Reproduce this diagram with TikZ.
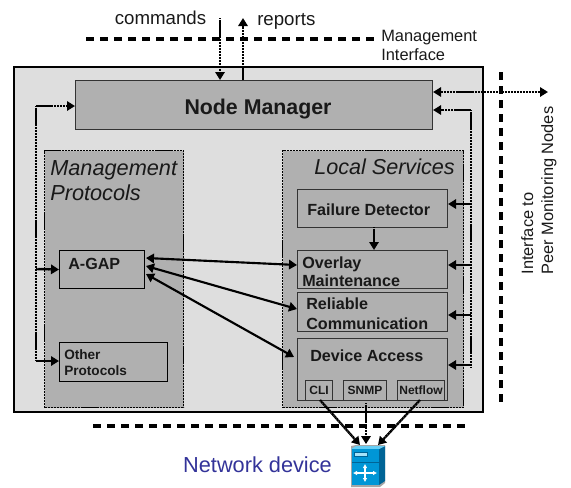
\documentclass[tikz,border=0pt]{standalone}
\usepackage{fontspec}
\setmainfont{Liberation Sans}
\usetikzlibrary{arrows.meta,calc}
\definecolor{outerfill}{gray}{0.87}
\definecolor{boxfill}{gray}{0.69}
\definecolor{devblue}{RGB}{51,51,153}
\definecolor{icoblue}{RGB}{0,150,214}
\definecolor{icodark}{RGB}{0,100,150}
\tikzset{
 x=0.75pt,y=-0.75pt,
 abox/.style={draw=black!80,fill=boxfill,line width=0.8pt,inner sep=0pt,anchor=north west},
 dbox/.style={abox,draw=black,line width=1pt,dash pattern=on 0.8pt off 0.32pt},
 lab/.style={inner sep=0pt,anchor=west,align=left,font=\bfseries\fontsize{12.1}{15}\selectfont,text=black!90},
 dotline/.style={line width=1.8pt,dash pattern=on 0.8pt off 0.32pt},
 dot/.style={dotline,-{Triangle[length=6pt,width=7pt]}},
 dotboth/.style={dotline,{Triangle[length=6pt,width=7pt]}-{Triangle[length=6pt,width=7pt]}},
 sol/.style={line width=1.6pt,{Triangle[length=6pt,width=7pt]}-{Triangle[length=6pt,width=7pt]}},
 divide/.style={line width=2.4pt,dash pattern=on 6pt off 4.5pt},
 reg/.style={inner sep=0pt,font=\fontsize{14}{16}\selectfont,text=black!90},
}
\begin{document}
\begin{tikzpicture}
\useasboundingbox (0,0) rectangle (571,487);
% outer
\node[draw=black,fill=outerfill,line width=1.3pt,inner sep=0pt,anchor=north west,minimum width=469*0.75pt,minimum height=345*0.75pt] (outer) at (13,66) {};
\node[abox,minimum width=357*0.75pt,minimum height=49*0.75pt] (nm) at (75,80) {};
\node[reg,font=\bfseries\fontsize{16}{18}\selectfont] (nmt) at (258,109) {Node Manager};
\node[dbox,minimum width=139*0.75pt,minimum height=257*0.75pt] (mp) at (44,150) {};
\node[dbox,minimum width=181*0.75pt,minimum height=257*0.75pt] (ls) at (282,150) {};
\node[reg,anchor=north west,align=left,font=\itshape\fontsize{16.3}{18.7}\selectfont] (mpt) at (50,160) {Management\\Protocols};
\node[reg,anchor=north east,font=\itshape\fontsize{16.2}{18}\selectfont] (lst) at (455,159) {Local Services};
\node[abox,minimum width=150*0.75pt,minimum height=38*0.75pt] (fd) at (297,189) {};
\node[lab] (fdt) at (307,209.5) {Failure Detector};
\node[abox,minimum width=150*0.75pt,minimum height=38*0.75pt] (ov) at (297,250) {};
\node[lab,font=\bfseries\fontsize{12.1}{13.6}\selectfont] (ovt) at (302,271.5) {Overlay\\Maintenance};
\node[abox,minimum width=150*0.75pt,minimum height=39*0.75pt] (re) at (297,292) {};
\node[lab] (ret) at (306,314) {Reliable\\Communication};
\node[abox,minimum width=150*0.75pt,minimum height=62*0.75pt] (da) at (297,338) {};
\node[lab] (dat) at (310,355.5) {Device Access};
\node[abox,minimum width=27*0.75pt,minimum height=20*0.75pt] (cli) at (305,380) {};
\node[abox,minimum width=43*0.75pt,minimum height=20*0.75pt] (snmp) at (343,380) {};
\node[abox,minimum width=47*0.75pt,minimum height=20*0.75pt] (nf) at (397,380) {};
\node[reg,font=\bfseries\fontsize{9}{10}\selectfont] (clit) at (cli) {CLI};
\node[reg,font=\bfseries\fontsize{9}{10}\selectfont] (snmpt) at (snmp) {SNMP};
\node[reg,font=\bfseries\fontsize{9}{10}\selectfont] (nft) at (nf) {Netflow};
\node[abox,draw=black,minimum width=85*0.75pt,minimum height=38*0.75pt] (ag) at (59,250) {};
\node[lab] (agt) at (68,263.5) {A-GAP};
\node[abox,draw=black,minimum width=108*0.75pt,minimum height=39*0.75pt] (op) at (59,342) {};
\node[lab,font=\bfseries\fontsize{10.2}{12}\selectfont] (opt) at (64,363) {Other\\Protocols};
% texts
\node[reg,anchor=center] (cmd) at (160.5,18) {commands};
\node[reg,anchor=west] (rep) at (257,21) {reports};
\node[reg,anchor=north west,align=left,font=\fontsize{12.3}{14.5}\selectfont] (mi) at (381,30) {Management\\Interface};
\node[reg,rotate=90,align=left,font=\fontsize{12.3}{15}\selectfont] (pi) at (539,190.5) {Interface to\\Peer Monitoring Nodes};
\node[reg,text=devblue,font=\fontsize{16.3}{18}\selectfont] (nd) at (257.5,465) {Network device};
% dividers
\coordinate (d1a) at (86,39); \coordinate (d1b) at (375,39);
\coordinate (d2a) at (93,426); \coordinate (d2b) at (467,426);
\coordinate (d3a) at (501,72); \coordinate (d3b) at (501,407);
\draw[divide] (d1a) -- (d1b);
\draw[divide] (d2a) -- (d2b);
\draw[divide] (d3a) -- (d3b);
% icon
\fill[gray!70] (351,446) -- (356,445) -- (385,445) -- (385,483) -- (380,487) -- (351,487) -- cycle;
\fill[icodark] (379,449) -- (385,446) -- (385,481) -- (379,485) -- cycle;
\fill[cyan!60!white] (351,449) -- (356,446) -- (385,446) -- (379,449) -- cycle;
\fill[icoblue] (352,449) rectangle (379,485);
\draw[icodark,line width=0.6pt] (352,462) -- (379,462);
\fill[cyan!35!white] (354,452) rectangle (367,456);
\draw[icodark,line width=0.5pt] (354,452) rectangle (367,456);
\draw[white,line width=1.2pt,{Latex[length=3pt,width=3.5pt]}-{Latex[length=3pt,width=3.5pt]}] (353,473) -- (377,473);
\draw[white,line width=1.2pt,{Latex[length=3pt,width=3.5pt]}-{Latex[length=3pt,width=3.5pt]}] (365,464) -- (365,482);
\node[inner sep=0pt,minimum width=1pt,minimum height=1pt] (dev) at (366,445) {};
\coordinate (devl) at (360,445);
\coordinate (devr) at (378,445);
% connectors
\coordinate (c0) at (220,18); \coordinate (r0) at (243,18);
\draw[dot] (c0) -- (c0 |- nm.north);
\draw[dot] (r0 |- nm.north) -- (r0);
\coordinate (lb) at (36,106);
\coordinate (lb2) at (36,361);
\draw[dotline] (lb) -- (lb2);
\draw[dot] (lb) -- (lb -| nm.west);
\draw[dot] (36,269) -- (ag.west);
\draw[dot] (lb2) -- (lb2 -| op.west);
\coordinate (re1) at (548,92);
\draw[dotboth] (re1 -| nm.east) -- (re1);
\coordinate (rb) at (471,110);
\coordinate (rb2) at (471,368);
\draw[dotline] (rb) -- (rb2);
\draw[dot] (rb) -- (rb -| nm.east);
\draw[dot] (471,204) -- (fd.east |- 0,204);
\draw[dot] (471,265) -- (ov.east |- 0,265);
\draw[dot] (471,315) -- (re.east |- 0,315);
\draw[dot] (471,365) -- (da.east |- 0,365);
\draw[dot] (374,227) -- (374,250);
\draw[sol] (146,258) -- (ov.west |- 0,265);
\draw[sol] (146,266) -- (re.west |- 0,309);
\draw[sol] (146,274) -- (294,357);
\draw[dot] (320,400) -- (devl);
\draw[dot] (366,403) -- (dev);
\draw[dot] (420,400) -- (devr);
\end{tikzpicture}
\end{document}
